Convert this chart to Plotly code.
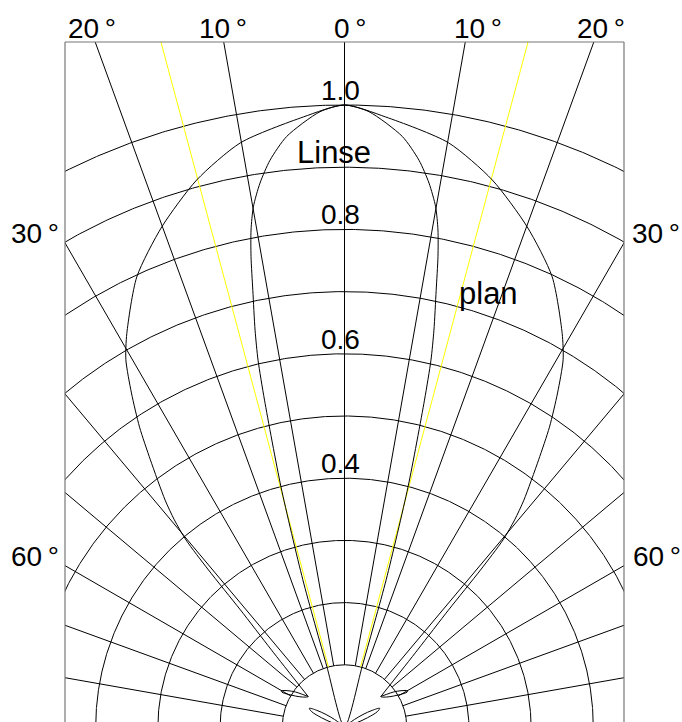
import numpy as np
import plotly.graph_objects as go

# ---------------- data ----------------
ring_radii = [0.1, 0.2, 0.3, 0.4, 0.5, 0.6, 0.7, 0.8, 0.9, 1.0]
spoke_angles = [-90, -80, -70, -60, -50, -40, -30, -20, -10, 0, 10, 20, 30, 40, 50, 60, 70, 80, 90]
marker_angles = [-15, 15]          # yellow half-angle lines
radial_labels = [1.0, 0.8, 0.6, 0.4]
top_angles = [-20, -10, 0, 10, 20]
top_angle_text = ["20\u2009°", "10\u2009°", "0\u2009°", "10\u2009°", "20\u2009°"]
side_angles = [-30, -60, 30, 60]
side_angle_text = ["30\u2009°", "60\u2009°", "30\u2009°", "60\u2009°"]

# "Linse" pattern (one half, mirrored about 0°)
linse_theta = [0, 2.28, 5.59, 7.49, 8.83, 9.94, 10.65, 11.24, 11.86, 12.70, 13.26, 13.75, 14.82, 15.80, 16.27, 16.6]
linse_r = [1.0, 0.990, 0.954, 0.919, 0.885, 0.849, 0.813, 0.771, 0.717, 0.654, 0.606, 0.541, 0.399, 0.246, 0.102, 0.0]
# small side lobe of the lens pattern
lobe_theta = [50, 53, 56, 59, 62, 65, 68, 71, 74]
lobe_r = [0.0, 0.020, 0.036, 0.052, 0.064, 0.058, 0.040, 0.020, 0.0]

# "plan" pattern (one half, mirrored about 0°)
plan_theta = [0, 3.86, 10.1, 15.12, 20.07, 24.77, 28.95, 30.77, 32.53, 34.35, 36.0, 38.33, 39.4, 40.28, 40.9, 41.63, 43.47, 50.07]
plan_r = [1.0, 0.983, 0.954, 0.911, 0.856, 0.797, 0.723, 0.687, 0.637, 0.584, 0.531, 0.465, 0.431, 0.394, 0.334, 0.252, 0.171, 0.076]
# thin side-lobe loop at the end of the plan pattern
loop_theta = [50.07, 52.3, 54.5, 57.3, 60.2, 60.9, 59.8, 57.7, 54.5, 51.2, 50.07]
loop_r = [0.076, 0.086, 0.097, 0.108, 0.117, 0.115, 0.104, 0.093, 0.083, 0.077, 0.076]

# ---------------- geometry helpers ----------------
W, H = 682, 722
PL, PR, PT, PB = 65, 624, 42, 722        # plot-area pixel box
OX, OY, S = 344.5, 727.0, 622.0          # polar origin (px) and px per unit
X0, X1 = (PL - OX) / S, (PR - OX) / S
Y0, Y1 = (OY - PB) / S, (OY - PT) / S


def to_xy(theta_deg, r):
    t = np.radians(np.asarray(theta_deg, dtype=float))
    r = np.asarray(r, dtype=float)
    return r * np.sin(t), r * np.cos(t)


def mirror(theta, r):
    th = [-t for t in theta[::-1]] + list(theta[1:])
    rr = list(r[::-1]) + list(r[1:])
    return th, rr


def px_paper(px, py):
    return (px - PL) / (PR - PL), (PB - py) / (PB - PT)


fig = go.Figure()
BLACK = "#000000"
LW = 1.0

# rings
circ_t = np.linspace(-90, 90, 721)
for rv in ring_radii:
    x, y = to_xy(circ_t, np.full_like(circ_t, rv))
    fig.add_trace(go.Scatter(x=x, y=y, mode="lines", line=dict(color=BLACK, width=LW), hoverinfo="skip"))

# spokes (start at the innermost ring)
for a in spoke_angles:
    x, y = to_xy([a, a], [ring_radii[0], 2.0])
    fig.add_trace(go.Scatter(x=x, y=y, mode="lines", line=dict(color=BLACK, width=LW), hoverinfo="skip"))

# yellow marker lines
for a in marker_angles:
    x, y = to_xy([a, a], [ring_radii[0], 2.0])
    fig.add_trace(go.Scatter(x=x, y=y, mode="lines", line=dict(color="#ffff00", width=LW), hoverinfo="skip"))

# plan pattern
th, rr = mirror(plan_theta, plan_r)
x, y = to_xy(th, rr)
fig.add_trace(go.Scatter(x=x, y=y, mode="lines", line=dict(color=BLACK, width=LW, shape="spline", smoothing=0.7), hoverinfo="skip"))
for sgn in (1, -1):
    x, y = to_xy([sgn * t for t in loop_theta], loop_r)
    fig.add_trace(go.Scatter(x=x, y=y, mode="lines", line=dict(color=BLACK, width=LW, shape="spline", smoothing=1.0), hoverinfo="skip"))

# lens pattern
th, rr = mirror(linse_theta, linse_r)
x, y = to_xy(th, rr)
fig.add_trace(go.Scatter(x=x, y=y, mode="lines", line=dict(color=BLACK, width=LW, shape="spline", smoothing=0.7), hoverinfo="skip"))
for sgn in (1, -1):
    x, y = to_xy([sgn * t for t in lobe_theta], lobe_r)
    fig.add_trace(go.Scatter(x=x, y=y, mode="lines", line=dict(color=BLACK, width=LW, shape="spline", smoothing=1.0), hoverinfo="skip"))

# ---------------- text ----------------
FONT = "Liberation Sans, Arial, Helvetica, sans-serif"
ann = []
for rv in radial_labels:
    ann.append(dict(x=(340.5 - OX) / S, y=rv + 14.5 / S, xref="x", yref="y", text=f"{rv:.1f}",
                    showarrow=False, xanchor="center", yanchor="middle",
                    font=dict(family=FONT, size=28, color=BLACK)))

top_px = {-20: 91.7, -10: 222.5, 0: 350.0, 10: 478.3, 20: 600.8}
for a, t in zip(top_angles, top_angle_text):
    px, py = px_paper(top_px[a], 28.5)
    ann.append(dict(x=px, y=py, xref="paper", yref="paper", text=t, showarrow=False,
                    xanchor="center", yanchor="middle", font=dict(family=FONT, size=28, color=BLACK)))

side_px = {-30: (35, 233), -60: (35, 556.7), 30: (656, 233), 60: (657, 556.7)}
for a, t in zip(side_angles, side_angle_text):
    px, py = px_paper(*side_px[a])
    ann.append(dict(x=px, y=py, xref="paper", yref="paper", text=t, showarrow=False,
                    xanchor="center", yanchor="middle", font=dict(family=FONT, size=28, color=BLACK)))

for txt, (px, py) in [("Linse", (334, 152)), ("plan", (488.3, 293))]:
    ann.append(dict(x=(px - OX) / S, y=(OY - py) / S, xref="x", yref="y", text=txt, showarrow=False,
                    xanchor="center", yanchor="middle", font=dict(family=FONT, size=31, color=BLACK)))

# frame (left, top, right)
FR = "#777777"
shapes = [
    dict(type="line", xref="paper", yref="paper", x0=0, x1=0, y0=0, y1=1, line=dict(color=FR, width=1.2)),
    dict(type="line", xref="paper", yref="paper", x0=0, x1=1, y0=1, y1=1, line=dict(color=FR, width=1.2)),
    dict(type="line", xref="paper", yref="paper", x0=1, x1=1, y0=0, y1=1, line=dict(color=FR, width=1.2)),
]

fig.update_layout(
    width=W, height=H,
    margin=dict(l=PL, r=W - PR, t=PT, b=H - PB, pad=0),
    paper_bgcolor="white", plot_bgcolor="white",
    showlegend=False,
    xaxis=dict(range=[X0, X1], visible=False, fixedrange=True),
    yaxis=dict(range=[Y0, Y1], visible=False, fixedrange=True),
    annotations=ann, shapes=shapes,
)

fig.write_html("out.html",
               config={"displayModeBar": False, "staticPlot": True},
               post_script="document.body.style.margin='0px';document.body.style.overflow='hidden';")
